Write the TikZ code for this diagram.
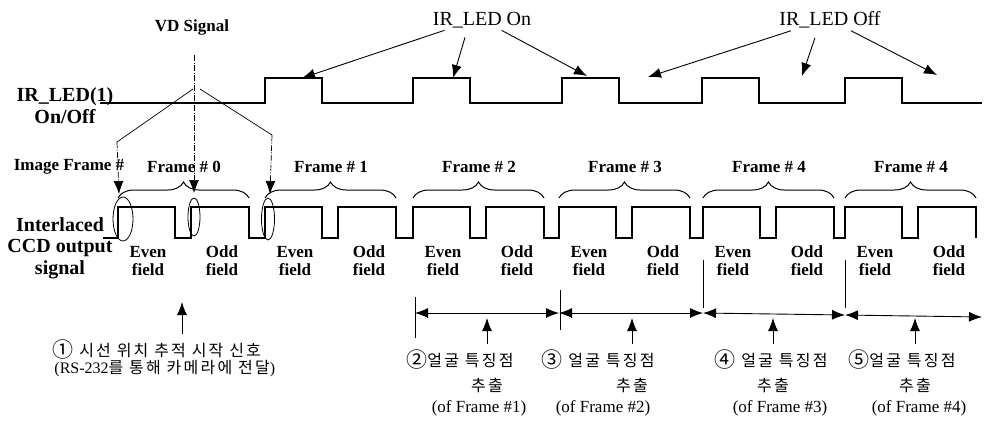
\documentclass[tikz,border=0pt]{standalone}
\usepackage{fontspec}
\setmainfont{Liberation Serif}
\newfontfamily\korfont[LetterSpace=14]{Noto Sans CJK KR}
\newcommand{\circd}[1]{{\fontsize{21}{18}\selectfont\raisebox{-1.5pt}{#1}}}
\usetikzlibrary{arrows.meta,decorations.pathreplacing}

\begin{document}
\begin{tikzpicture}[x=1pt, y=-1pt,
		>={Latex[length=13pt,width=10pt]},   % Pfeilspitzen
		line width=0.9pt,
		wave/.style={line width=1.3pt},
		edge/.style={line width=2.8pt},
		vdline/.style={line width=0.7pt, dash pattern=on 6pt off 1.5pt on 1pt off 1.5pt},
		hdr/.style={font=\bfseries\fontsize{17}{19}\selectfont, inner sep=0pt},
		sidelabel/.style={font=\bfseries\fontsize{20}{22}\selectfont, inner sep=0pt, align=center},
		ledlabel/.style={font=\fontsize{20}{22}\selectfont, inner sep=0pt},
		kor/.style={font=\korfont\fontsize{16}{18}\selectfont, inner sep=0pt},
		ofn/.style={font=\fontsize{17}{19}\selectfont, inner sep=0pt},
		fbrace/.style={decorate, decoration={brace, amplitude=16pt}, line width=1pt}]
	% Bildbereich
	\useasboundingbox (0,0) rectangle (984,421);
	% IR LED Signal
	\node[sidelabel] (ledname) at (65,106) {IR\_LED(1)\\On/Off};
	\draw[wave] (100,103) \foreach \p in {265,413,562,702,845} { -- (\p,103) -- (\p,78) -- (\p+57,78) -- (\p+57,103)} -- (982,103);
	\node[ledlabel] (ledon) at (482,20) {IR\_LED On};
	\node[ledlabel] (ledoff) at (830,20) {IR\_LED Off};
	\coordinate (on1) at (302,78);
	\coordinate (on2) at (453,78);
	\coordinate (on3) at (587,76);
	\coordinate (off1) at (648,77);
	\coordinate (off2) at (802,76);
	\coordinate (off3) at (937,75);
	\draw[->] ([xshift=12pt,yshift=-2pt]ledon.south west) -- (on1);
	\draw[->] ([xshift=-17pt,yshift=-9pt]ledon.south) -- (on2);
	\draw[->] ([xshift=-30pt,yshift=-2pt]ledon.south east) -- (on3);
	\draw[->] ([xshift=12pt,yshift=-2pt]ledoff.south west) -- (off1);
	\draw[->] ([xshift=-15pt,yshift=-9pt]ledoff.south) -- (off2);
	\draw[->] ([xshift=-30pt,yshift=-2pt]ledoff.south east) -- (off3);
	% VD Signal
	\node[hdr, font=\bfseries\fontsize{17}{19}\selectfont] (vdname) at (192,27) {VD Signal};
	\coordinate (vdtop) at (194,55);
	\coordinate (vdl) at (117,142);
	\coordinate (vdr) at (272,135);
	\draw[vdline,->] (vdtop) -- (194,193);
	\draw[line width=0.7pt] (193,89) -- (vdl);
	\draw[vdline,->] (vdl) -- (119,194);
	\draw[line width=0.7pt] (200,89) -- (vdr);
	\draw[vdline,->] (vdr) -- (270,194);
	% CCD Signal
	\node[sidelabel, font=\bfseries\fontsize{20}{21.5}\selectfont] (ccdname) at (60,248) {Interlaced\\CCD output\\signal};
	\node[hdr] (imgframe) at (69,167) {Image Frame \#};
	\draw[wave] (103,238) \foreach \s in {118,265,413,559,703,845} { -- (\s,238) -- (\s,207) -- (\s+57,207) -- (\s+57,238) -- (\s+73,238) -- (\s+73,207) -- (\s+131,207) -- (\s+131,238)};
	\foreach \s/\n [count=\i] in {118/0,265/1,413/2,559/3,703/4,845/4} {
		\draw[edge] (\s,207) -- (\s,238);
		\draw[fbrace] (\s,198) -- (\s+131,198);
		\node[hdr] (frame\i) at (\s+66,167) {Frame \# \n};
		\node[hdr] (even\i) at (\s+30,252) {Even};
		\node[hdr] (evenf\i) at (\s+30,270) {field};
		\node[hdr] (odd\i) at (\s+104,252) {Odd};
		\node[hdr] (oddf\i) at (\s+104,270) {field};
	}
	% Markierungen
	\draw[line width=0.8pt] (123,219) ellipse [x radius=10pt, y radius=22pt];
	\draw[line width=0.8pt] (194,217) ellipse [x radius=6pt, y radius=19pt];
	\draw[line width=0.8pt] (268,219) ellipse [x radius=6.5pt, y radius=21pt];
	% Intervalle
	\draw (415,297) -- (415,338);
	\draw (560,290) -- (560,330);
	\draw (703,260) -- (703,308);
	\draw (845,260) -- (845,308);
	\coordinate (t1) at (415,313);
	\coordinate (t2) at (559,313);
	\coordinate (t3) at (703,313);
	\coordinate (t4) at (845,315);
	\coordinate (t5) at (982,317);
	\draw[<->] (t1) -- (t2);
	\draw[<->] (t2) -- (t3);
	\draw[<->] (t3) -- (t4);
	\draw[<->] (t4) -- (t5);
	% Beschriftung unten
	\node[kor, anchor=west] (start1) at (52,350) {\circd{①} 시선 위치 추적 시작 신호};
	\node[kor, anchor=west] (start2) at (54,369) {{\rmfamily\fontsize{16}{17}\selectfont(RS-232}를 통해 카메라에 전달{\rmfamily\fontsize{16}{17}\selectfont)}};
	\coordinate (cmd) at (182,302);
	\draw[->] ([yshift=6pt]start1.north -| cmd) -- (cmd);
	\foreach \ax/\ca/\cc/\cn/\txt/\fr [count=\i] in {487/460/479/②/얼굴 특징점/1, 632/598/603/③/\ 얼굴 특징점/2, 773/771/780/④/\ 얼굴 특징점/3, 915/902/919/⑤/얼굴 특징점/4} {
		\node[kor] (feat\i) at (\ca,360) {\circd{\cn}\txt};
		\node[kor] (featb\i) at (\ax,385) {추출};
		\node[ofn] (featc\i) at (\cc,408) {(of Frame \#\fr)};
		\coordinate (tip\i) at (\ax,318);
		\draw[->] ([yshift=6pt]feat\i.north -| tip\i) -- (tip\i);
	}
\end{tikzpicture}
\end{document}
